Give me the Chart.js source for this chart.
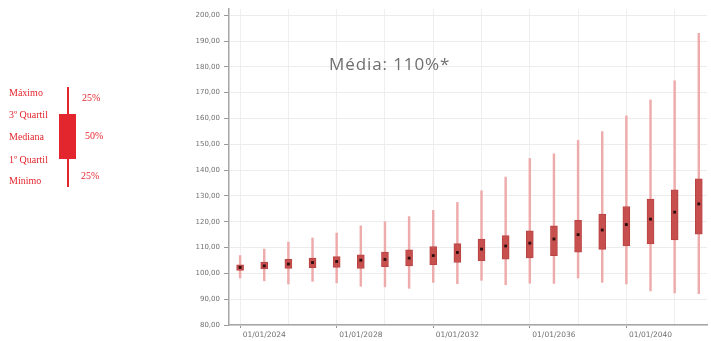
<!DOCTYPE html>
<html>
<head>
<meta charset="utf-8">
<script src="https://cdn.jsdelivr.net/npm/chart.js@4/dist/chart.umd.min.js"></script>
<style>
  html, body { margin: 0; padding: 0; background: #fff; }
  #wrap { position: relative; width: 711px; height: 341px; overflow: hidden; background: #fff; }
  #chartBox { position: absolute; left: 0; top: 0; width: 711px; height: 341px; }
  .lg { position: absolute; font-family: "Liberation Serif", "Times New Roman", serif; font-size: 10px; color: #e3262d; line-height: 12px; white-space: nowrap; }
  #media { position: absolute; left: 329px; top: 53px; font-family: "Open Sans", sans-serif; font-size: 17px; letter-spacing: 0.9px; color: #6f6f6f; white-space: nowrap; line-height: 22px; }
</style>
</head>
<body>
<div id="wrap">
  <div id="chartBox"><canvas id="c"></canvas></div>

  <!-- box-plot key -->
  <div class="lg" style="left:9px; top:87px;">Máximo</div>
  <div class="lg" style="left:9px; top:109px;">3º Quartil</div>
  <div class="lg" style="left:9px; top:131px;">Mediana</div>
  <div class="lg" style="left:9px; top:154px;">1º Quartil</div>
  <div class="lg" style="left:9px; top:175px;">Mínimo</div>
  <div style="position:absolute; left:67px; top:87px; width:2px; height:100px; background:#e3262d;"></div>
  <div style="position:absolute; left:59px; top:114px; width:17px; height:45px; background:#e3262d;"></div>
  <div class="lg" style="left:82px; top:92px;">25%</div>
  <div class="lg" style="left:85px; top:130px;">50%</div>
  <div class="lg" style="left:81px; top:170px;">25%</div>

  <div id="media">Média: 110%*</div>
</div>

<script>
// Yearly distribution (index, 2023 = ~102)
const years   = [2023, 2024, 2025, 2026, 2027, 2028, 2029, 2030, 2031, 2032,
                 2033, 2034, 2035, 2036, 2037, 2038, 2039, 2040, 2041, 2042];
const minimo  = [98.2, 97.1, 95.9, 96.9, 96.3, 95.0, 94.8, 94.2, 96.5, 96.0,
                 97.3, 95.6, 96.2, 96.1, 98.2, 96.5, 95.9, 93.2, 92.4, 92.1];
const quartil1 = [101.1, 101.7, 101.9, 102.2, 102.3, 101.9, 102.6, 102.9, 103.4, 104.2,
                  104.9, 105.5, 106.0, 106.9, 108.2, 109.3, 110.6, 111.4, 113.0, 115.2];
const mediana = [102.3, 102.9, 103.6, 104.2, 104.6, 105.1, 105.4, 105.9, 106.9, 108.1,
                 109.4, 110.6, 111.7, 113.3, 115.0, 116.8, 118.9, 121.0, 123.7, 126.9];
const quartil3 = [103.3, 104.4, 105.4, 105.9, 106.5, 107.2, 108.2, 109.1, 110.4, 111.5,
                  113.3, 114.6, 116.5, 118.4, 120.5, 123.0, 125.9, 128.8, 132.4, 136.6];
const maximo  = [106.9, 109.4, 112.1, 113.7, 115.6, 118.4, 120.0, 122.0, 124.4, 127.5,
                 132.0, 137.3, 144.5, 146.3, 151.5, 154.9, 161.0, 167.2, 174.6, 193.0];

// Axis ticks
const yTickValues = [80, 90, 100, 110, 120, 130, 140, 150, 160, 170, 180, 190, 200];
const xGridYears  = [2024, 2026, 2028, 2030, 2032, 2034, 2036, 2038, 2040, 2042];
const xLabelYears = [2024, 2028, 2032, 2036, 2040];

const whiskers = years.map((yr, i) => ({ x: yr, y: [minimo[i], maximo[i]] }));
const boxes    = years.map((yr, i) => ({ x: yr, y: [quartil1[i], quartil3[i]] }));
const medians  = years.map((yr, i) => ({ x: yr, y: mediana[i] }));

const axisFamily = '"DejaVu Sans", Verdana, sans-serif';

new Chart(document.getElementById('c'), {
  type: 'bar',
  data: {
    datasets: [
      {
        type: 'line',
        data: medians,
        showLine: false,
        pointStyle: 'rect',
        pointRadius: 2,
        pointBackgroundColor: '#2a0d0d',
        pointBorderWidth: 0,
        order: 1
      },
      {
        data: boxes,
        grouped: false,
        barThickness: 7,
        backgroundColor: '#c74f4e',
        borderColor: '#b94444',
        borderWidth: 1,
        borderSkipped: false,
        order: 2
      },
      {
        data: whiskers,
        grouped: false,
        barThickness: 1.8,
        backgroundColor: '#eeabab',
        borderWidth: 0,
        order: 3
      }
    ]
  },
  options: {
    responsive: true,
    maintainAspectRatio: false,
    animation: false,
    layout: { padding: { top: 9, right: 0, left: 0, bottom: 0 } },
    plugins: { legend: { display: false }, tooltip: { enabled: false } },
    scales: {
      x: {
        type: 'linear',
        offset: false,
        min: 2022.54,
        max: 2042.34,
        afterBuildTicks: s => { s.ticks = xGridYears.map(v => ({ value: v })); },
        afterFit: s => { s.height = 16; },
        grid: {
          color: '#efefef',
          lineWidth: 1,
          tickLength: 3,
          tickColor: ctx => (ctx.tick && xLabelYears.includes(ctx.tick.value)) ? '#999999' : 'rgba(0,0,0,0)'
        },
        border: { color: '#a6a6a6', width: 1.5 },
        ticks: {
          autoSkip: false,
          maxRotation: 0,
          padding: 3,
          color: '#707070',
          font: { family: axisFamily, size: 7.5 },
          callback: v => xLabelYears.includes(v) ? '01/01/' + v : ''
        }
      },
      y: {
        type: 'linear',
        min: 80,
        max: 202.4,
        afterBuildTicks: s => { s.ticks = yTickValues.map(v => ({ value: v })); },
        afterFit: s => { s.width = 229; },
        grid: {
          color: '#ececec',
          lineWidth: 1,
          tickLength: 5,
          tickColor: '#999999'
        },
        border: { color: '#a6a6a6', width: 1.5 },
        ticks: {
          padding: 4,
          color: '#707070',
          font: { family: axisFamily, size: 7 },
          callback: v => v.toFixed(2).replace('.', ',')
        }
      }
    }
  }
});
</script>
</body>
</html>
